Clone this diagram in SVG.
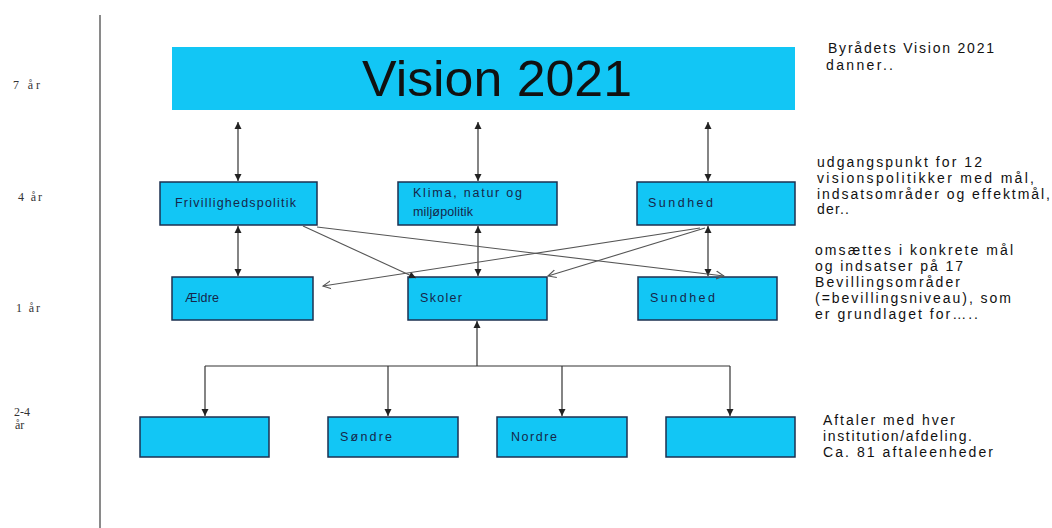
<svg xmlns="http://www.w3.org/2000/svg" width="1052" height="528" viewBox="0 0 1052 528">
<style>
.box{fill:#12c6f5;stroke:#1c3050;stroke-width:1.5}
.lbl{font-family:"Liberation Sans",Arial,sans-serif;font-size:12.5px;fill:#16264a}
.side{font-family:"Liberation Sans",Arial,sans-serif;font-size:14px;fill:#111}
.yr{font-family:"Liberation Serif","Times New Roman",serif;font-size:12px;fill:#333}
.c{fill:none;stroke:#333;stroke-width:1.2}
.d{fill:none;stroke:#555;stroke-width:1.1}
</style>
<defs>
<marker id="af" markerUnits="userSpaceOnUse" markerWidth="8" markerHeight="8" refX="7" refY="4" orient="auto-start-reverse">
<path d="M0,0.5 L7,4 L0,7.5 z" fill="#222"/>
</marker>
<marker id="ao" markerUnits="userSpaceOnUse" markerWidth="10" markerHeight="10" refX="8" refY="5" orient="auto">
<path d="M0,1 L8,5 L0,9" fill="none" stroke="#555" stroke-width="1.1"/>
</marker>
</defs>
<rect width="1052" height="528" fill="#fff"/>
<line x1="100" y1="15" x2="100" y2="528" stroke="#8a8a8a" stroke-width="2"/>
<g id="years">
<text class="yr" x="13" y="89" textLength="27" lengthAdjust="spacing">7 år</text>
<text class="yr" x="18" y="201" textLength="24" lengthAdjust="spacing">4 år</text>
<text class="yr" x="16" y="312" textLength="24" lengthAdjust="spacing">1 år</text>
<text class="yr" x="14" y="416">2-4</text>
<text class="yr" x="15" y="429">år</text>
</g>
<g id="vision">
<rect x="172" y="47" width="623" height="63" fill="#12c6f5"/>
<text x="497" y="96" text-anchor="middle" font-family="Liberation Sans,Arial,sans-serif" font-size="50" fill="#111" textLength="270" lengthAdjust="spacingAndGlyphs">Vision 2021</text>
</g>
<g id="frivillighed">
<rect class="box" x="160" y="182" width="157" height="43"/>
<text class="lbl" x="175" y="207" textLength="121" lengthAdjust="spacing">Frivillighedspolitik</text>
</g>
<g id="klima">
<rect class="box" x="398" y="182" width="159" height="43"/>
<text class="lbl" x="413" y="197" textLength="109" lengthAdjust="spacing">Klima, natur og</text>
<text class="lbl" x="413" y="216" textLength="60" lengthAdjust="spacing">miljøpolitik</text>
</g>
<g id="sundhed1">
<rect class="box" x="637" y="182" width="158" height="43"/>
<text class="lbl" x="648" y="207" textLength="65" lengthAdjust="spacing">Sundhed</text>
</g>
<g id="aeldre">
<rect class="box" x="172" y="277" width="141" height="43"/>
<text class="lbl" x="185" y="302" textLength="34" lengthAdjust="spacing">Ældre</text>
</g>
<g id="skoler">
<rect class="box" x="408" y="277" width="139" height="43"/>
<text class="lbl" x="420" y="302" textLength="42" lengthAdjust="spacing">Skoler</text>
</g>
<g id="sundhed2">
<rect class="box" x="638" y="277" width="139" height="43"/>
<text class="lbl" x="650" y="302" textLength="65" lengthAdjust="spacing">Sundhed</text>
</g>
<g id="inst1">
<rect class="box" x="140" y="417" width="129" height="40"/>
</g>
<g id="sondre">
<rect class="box" x="328" y="417" width="130" height="40"/>
<text class="lbl" x="340" y="441" textLength="52" lengthAdjust="spacing">Søndre</text>
</g>
<g id="nordre">
<rect class="box" x="497" y="417" width="130" height="40"/>
<text class="lbl" x="511" y="441" textLength="46" lengthAdjust="spacing">Nordre</text>
</g>
<g id="inst4">
<rect class="box" x="666" y="417" width="129" height="40"/>
</g>
<g id="connectors">
<line class="c" x1="238" y1="122" x2="238" y2="181" marker-start="url(#af)" marker-end="url(#af)"/>
<line class="c" x1="478" y1="122" x2="478" y2="181" marker-start="url(#af)" marker-end="url(#af)"/>
<line class="c" x1="708" y1="122" x2="708" y2="181" marker-start="url(#af)" marker-end="url(#af)"/>
<line class="c" x1="238" y1="226" x2="238" y2="276" marker-start="url(#af)" marker-end="url(#af)"/>
<line class="c" x1="478" y1="226" x2="478" y2="276" marker-start="url(#af)" marker-end="url(#af)"/>
<line class="c" x1="708" y1="226" x2="708" y2="276" marker-start="url(#af)" marker-end="url(#af)"/>
<line class="d" x1="303" y1="226" x2="416" y2="278" marker-end="url(#af)"/>
<line class="d" x1="317" y1="227" x2="724" y2="276" marker-end="url(#ao)"/>
<line class="d" x1="700" y1="228" x2="323" y2="286" marker-end="url(#ao)"/>
<line class="d" x1="705" y1="228" x2="548" y2="276" marker-end="url(#ao)"/>
<line class="c" x1="477" y1="366" x2="477" y2="321" marker-end="url(#af)"/>
<line class="c" x1="205" y1="366" x2="730" y2="366"/>
<line class="c" x1="205" y1="366" x2="205" y2="416" marker-end="url(#af)"/>
<line class="c" x1="388" y1="366" x2="388" y2="416" marker-end="url(#af)"/>
<line class="c" x1="562" y1="366" x2="562" y2="416" marker-end="url(#af)"/>
<line class="c" x1="730" y1="366" x2="730" y2="416" marker-end="url(#af)"/>
</g>
<g id="notes">
<text class="side" x="828" y="53" textLength="166" lengthAdjust="spacing">Byrådets Vision 2021</text>
<text class="side" x="826" y="70" textLength="67" lengthAdjust="spacing">danner..</text>
<text class="side" x="817" y="167" textLength="165" lengthAdjust="spacing">udgangspunkt for 12</text>
<text class="side" x="817" y="183" textLength="217" lengthAdjust="spacing">visionspolitikker med mål,</text>
<text class="side" x="817" y="199" textLength="233" lengthAdjust="spacing">indsatsområder og effektmål,</text>
<text class="side" x="817" y="214" textLength="32" lengthAdjust="spacing">der..</text>
<text class="side" x="815" y="255" textLength="198" lengthAdjust="spacing">omsættes i konkrete mål</text>
<text class="side" x="815" y="271" textLength="148" lengthAdjust="spacing">og indsatser på 17</text>
<text class="side" x="815" y="287" textLength="145" lengthAdjust="spacing">Bevillingsområder</text>
<text class="side" x="815" y="303" textLength="196" lengthAdjust="spacing">(=bevillingsniveau), som</text>
<text class="side" x="815" y="319" textLength="163" lengthAdjust="spacing">er grundlaget for…..</text>
<text class="side" x="823" y="425" textLength="132" lengthAdjust="spacing">Aftaler med hver</text>
<text class="side" x="823" y="441" textLength="149" lengthAdjust="spacing">institution/afdeling.</text>
<text class="side" x="823" y="457" textLength="170" lengthAdjust="spacing">Ca. 81 aftaleenheder</text>
</g>
</svg>
